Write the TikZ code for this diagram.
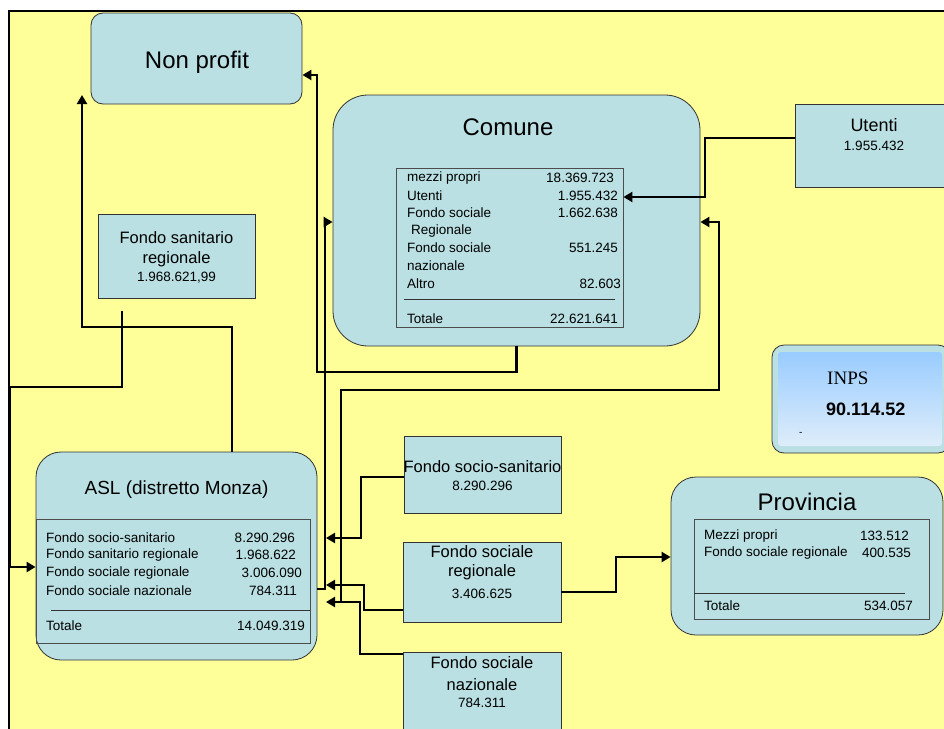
\documentclass[tikz,border=0pt]{standalone}
\usepackage{fontspec}
\setmainfont{Liberation Sans}
\newfontfamily\tnr{Liberation Serif}
\usetikzlibrary{arrows.meta}
\definecolor{bgy}{RGB}{255,255,153}
\definecolor{boxc}{RGB}{186,224,227}
\definecolor{inpstop}{RGB}{153,204,255}
\definecolor{inpsbot}{RGB}{222,237,250}
\begin{document}
\begin{tikzpicture}[x=1pt,y=-1pt,
  box/.style={draw=black!80,line width=0.8pt,fill=boxc,inner sep=0pt},
  tabbox/.style={draw=black!70,line width=0.8pt,inner sep=0pt},
  conn/.style={line width=2.6pt,black},
  arr/.style={-{Triangle[length=9pt,width=10pt]}},
  big/.style={font=\fontsize{24}{28}\selectfont},
  mid/.style={font=\fontsize{16.5}{20}\selectfont,inner sep=0pt},
  sm/.style={font=\fontsize{13.5}{16}\selectfont,inner sep=0pt},
  tl/.style={sm,anchor=west},
  tv/.style={sm,anchor=east}]
\useasboundingbox (0,0) rectangle (944,728);
\clip (0,0) rectangle (944,728);
\fill[white] (0,0) rectangle (944,728);
\fill[bgy] (9,11) rectangle (950,740);
\draw[line width=1.5pt] (9,740) -- (9,11) -- (950,11);

% Non profit
\node[box,rounded corners=12pt,minimum width=211pt,minimum height=91pt] (np) at (196.5,58.5) {};
\node[big,inner sep=0pt,anchor=base] (npt) at (197,68) {Non profit};

% Comune
\node[box,rounded corners=35pt,minimum width=367pt,minimum height=251pt] (com) at (516.5,220.5) {};
\node[big,inner sep=0pt,anchor=base] (comt) at (508,135) {Comune};
\node[tabbox,minimum width=227pt,minimum height=159pt] (comtab) at (509.5,247.5) {};
\node[tl] (c1) at (407,178) {mezzi propri};
\node[tv] (c1v) at (614,178) {18.369.723};
\node[tl] (c2) at (407,196) {Utenti};
\node[tv] (c2v) at (618,196) {1.955.432};
\node[tl] (c3) at (407,213) {Fondo sociale};
\node[tv] (c3v) at (618,213) {1.662.638};
\node[tl] (c3b) at (411,231) {Regionale};
\node[tl] (c4) at (407,248) {Fondo sociale};
\node[tv] (c4v) at (618,248) {551.245};
\node[tl] (c4b) at (407,266) {nazionale};
\node[tl] (c5) at (407,284) {Altro};
\node[tv] (c5v) at (621,284) {82.603};
\draw[line width=0.8pt,black!80] (404,299) -- (615,299);
\node[tl] (c6) at (407,319) {Totale};
\node[tv] (c6v) at (618,319) {22.621.641};

% Utenti
\node[box,minimum width=158pt,minimum height=83pt] (ut) at (874,145.5) {};
\node[font=\fontsize{18}{22}\selectfont,inner sep=0pt] (utt) at (874,125) {Utenti};
\node[sm] (utv) at (874,146) {1.955.432};

% Fondo sanitario regionale
\node[box,minimum width=157pt,minimum height=84pt] (fsan) at (176.5,256) {};
\node[mid] (fsan1) at (176.5,238) {Fondo sanitario};
\node[mid] (fsan2) at (176.5,259) {regionale};
\node[sm] (fsan3) at (176.5,278) {1.968.621,99};
\coordinate (fsanout) at (122,311);

% INPS
\node[box,rounded corners=12pt,minimum width=178pt,minimum height=108pt] (inps) at (861,399) {};
\node[inner sep=0pt,minimum width=164pt,minimum height=94pt,rounded corners=3pt,top color=inpstop,bottom color=inpsbot,draw=none] (inpsin) at (860,399) {};
\node[anchor=west,inner sep=0pt,font=\tnr\fontsize{19}{22}\selectfont] (inpst) at (827,378) {INPS};
\node[anchor=west,inner sep=0pt,font=\bfseries\fontsize{18}{22}\selectfont] (inpsv) at (826,409) {90.114.52};
\node[anchor=west,inner sep=0pt,font=\fontsize{10}{12}\selectfont] (inpsd) at (799,434) {-};

% ASL
\node[box,rounded corners=25pt,minimum width=281pt,minimum height=208pt] (asl) at (176.5,556) {};
\node[font=\fontsize{19}{22}\selectfont,inner sep=0pt,anchor=base] (aslt) at (176.5,494) {ASL (distretto Monza)};
\node[tabbox,minimum width=274pt,minimum height=124pt] (asltab) at (173,581) {};
\node[tl] (a1) at (46,538) {Fondo socio-sanitario};
\node[tv] (a1v) at (295,538) {8.290.296};
\node[tl] (a2) at (46,555) {Fondo sanitario regionale};
\node[tv] (a2v) at (296,555) {1.968.622};
\node[tl] (a3) at (46,573) {Fondo sociale regionale};
\node[tv] (a3v) at (302,573) {3.006.090};
\node[tl] (a4) at (46,591) {Fondo sociale nazionale};
\node[tv] (a4v) at (297,591) {784.311};
\draw[line width=0.8pt,black!80] (51,610) -- (310,610);
\node[tl] (a5) at (46,626) {Totale};
\node[tv] (a5v) at (305,626) {14.049.319};
\coordinate (aslin1) at (326,538);
\coordinate (aslin2) at (326,585);
\coordinate (aslin3) at (326,602);
\coordinate (npleft) at (82,95);

% Fondo socio-sanitario
\node[box,minimum width=157pt,minimum height=77pt] (fss) at (482.5,474.5) {};
\node[mid] (fss1) at (482.5,467) {Fondo socio-sanitario};
\node[sm] (fss2) at (482.5,486) {8.290.296};

% Fondo sociale regionale
\node[box,minimum width=158pt,minimum height=80pt] (fsr) at (482,582) {};
\node[mid] (fsr1) at (482,552) {Fondo sociale};
\node[mid] (fsr2) at (482,572) {regionale};
\node[sm] (fsr3) at (482,594) {3.406.625};

% Fondo sociale nazionale
\node[box,minimum width=158pt,minimum height=93pt] (fsn) at (482,698.5) {};
\node[mid] (fsn1) at (482,663) {Fondo sociale};
\node[mid] (fsn2) at (482,685) {nazionale};
\node[sm] (fsn3) at (482,703) {784.311};

% Provincia
\node[box,rounded corners=25pt,minimum width=272pt,minimum height=158pt] (prov) at (807,556) {};
\node[big,inner sep=0pt,anchor=base] (provt) at (807,510) {Provincia};
\node[tabbox,minimum width=235pt,minimum height=100pt] (provtab) at (811.5,569) {};
\node[tl] (p1) at (704,536) {Mezzi propri};
\node[tv] (p1v) at (909,536) {133.512};
\node[tl] (p2) at (704,553) {Fondo sociale regionale};
\node[tv] (p2v) at (911,553) {400.535};
\draw[line width=0.8pt,black!80] (694,593) -- (905,593);
\node[tl] (p3) at (704,606) {Totale};
\node[tv] (p3v) at (913,606) {534.057};

% connectors
\draw[conn,arr] (com.south) -- (com.south |- 0,372) -- (317,372) -- (317,75) -- (np.east |- 0,75);
\draw[conn,arr] (asl.east |- 0,589) -- (325,589) -- (325,222) -- (com.west |- 0,222);
\draw[conn,arr] (ut.west |- 0,138) -- (705,138) -- (705,197) -- (comtab.east |- 0,197);
\draw[conn,arr] (fsn.west |- 0,654) -- (360,654) -- (360,602) -- (aslin3);
\draw[conn,arr] (341,602) -- (341,390) -- (719,390) -- (719,222) -- (com.east |- 0,222);
\draw[conn,arr] (fsr.west |- 0,610) -- (364,610) -- (364,585) -- (aslin2);
\draw[conn,arr] (fsr.east |- 0,592) -- (616,592) -- (616,557) -- (prov.west |- 0,557);
\draw[conn,arr] (fss.west |- 0,477) -- (361,477) -- (361,538) -- (aslin1);
\draw[conn,arr] (asl.north -| 232,0) -- (232,327) -- (82,327) -- (npleft);
\draw[conn,arr] (fsanout) -- (122,387) -- (10,387) -- (10,567) -- (asl.west |- 0,567);
\end{tikzpicture}
\end{document}
